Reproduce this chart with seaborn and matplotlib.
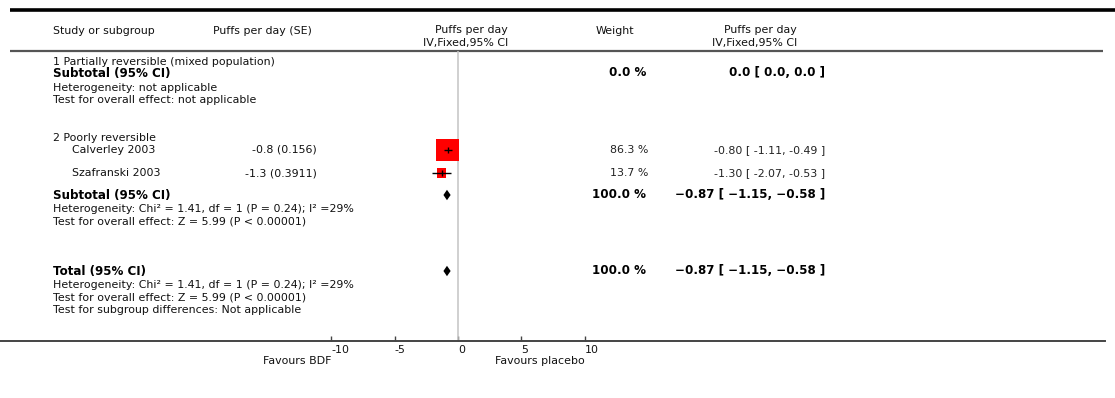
import numpy as np
import pandas as pd
import matplotlib
matplotlib.use("Agg")
import matplotlib.pyplot as plt
import seaborn as sns

# ---- data -------------------------------------------------------------
studies = ["Calverley 2003", "Szafranski 2003"]
effect_se_labels = ["-0.8 (0.156)", "-1.3 (0.3911)"]
estimates = [-0.80, -1.30]
ci_low = [-1.11, -2.07]
ci_high = [-0.49, -0.53]
weights = [86.3, 13.7]
study_weight_labels = ["86.3 %", "13.7 %"]
study_ci_labels = ["-0.80 [ -1.11, -0.49 ]", "-1.30 [ -2.07, -0.53 ]"]

subtotal_est, subtotal_lo, subtotal_hi = -0.87, -1.15, -0.58
total_est, total_lo, total_hi = -0.87, -1.15, -0.58

axis_ticks = [-10, -5, 0, 5, 10]
axis_tick_labels = ["-10", "-5", "0", "5", "10"]

# ---- layout (figure pixels, y measured from the top) ------------------
W, H = 1115, 398
ZERO_PX = 458.0
PX_PER_UNIT = 12.68
AXIS_Y = 341
ROW_Y = {"calverley": 150, "szafranski": 173, "sub2": 195, "total": 271}

sns.set_theme(style="white")
plt.rcParams["font.family"] = ["DejaVu Sans"]

fig = plt.figure(figsize=(W / 100, H / 100), dpi=100)
fig.patch.set_facecolor("white")

# text / rule layer
tx = fig.add_axes([0, 0, 1, 1])
tx.set_xlim(0, W)
tx.set_ylim(H, 0)
tx.axis("off")

# forest-plot layer in effect units
ax = fig.add_axes([0, 0, 1, 1])
ax.patch.set_alpha(0)
ax.set_xlim((0 - ZERO_PX) / PX_PER_UNIT, (W - ZERO_PX) / PX_PER_UNIT)
ax.set_ylim(H, 0)

small = 7.9
bold_big = 8.6

def t(x, y, s, size=small, weight="normal", ha="left", color="#111111"):
    tx.text(x, y, s, fontsize=size, fontweight=weight, ha=ha, va="center", color=color)

# rules
tx.hlines(10, 10, W, color="black", lw=2.6)
tx.hlines(51, 10, 1103, color="#555555", lw=1.6)

# header
t(53, 31, "Study or subgroup")
t(213, 31, "Puffs per day (SE)")
t(508, 30, "Puffs per day", ha="right")
t(508, 43, "IV,Fixed,95% CI", ha="right")
t(615, 31, "Weight", ha="center")
t(797, 30, "Puffs per day", ha="right")
t(797, 43, "IV,Fixed,95% CI", ha="right")

# subgroup 1
t(53, 62, "1 Partially reversible (mixed population)")
t(53, 73, "Subtotal (95% CI)", size=bold_big, weight="bold", color="black")
t(53, 88, "Heterogeneity: not applicable")
t(53, 100, "Test for overall effect: not applicable")
t(646, 73, "0.0 %", size=bold_big, weight="bold", ha="right", color="black")
t(825, 73, "0.0 [ 0.0, 0.0 ]", size=bold_big, weight="bold", ha="right", color="black")

# subgroup 2
t(53, 138, "2 Poorly reversible")
study_rows = [ROW_Y["calverley"], ROW_Y["szafranski"]]
for name, se_lab, w_lab, ci_lab, y in zip(studies, effect_se_labels,
                                          study_weight_labels, study_ci_labels, study_rows):
    t(72, y, name)
    t(317, y, se_lab, ha="right")
    t(648, y, w_lab, ha="right", color="#222222")
    t(825, y, ci_lab, ha="right", color="#222222")

het = "Heterogeneity: Chi\u00b2 = 1.41, df = 1 (P = 0.24); I\u00b2 =29%"
overall = "Test for overall effect: Z = 5.99 (P < 0.00001)"
sub_ci = f"{subtotal_est:.2f} [ {subtotal_lo:.2f}, {subtotal_hi:.2f} ]".replace("-", "\u2212")
tot_ci = f"{total_est:.2f} [ {total_lo:.2f}, {total_hi:.2f} ]".replace("-", "\u2212")

t(53, ROW_Y["sub2"], "Subtotal (95% CI)", size=bold_big, weight="bold", color="black")
t(53, 209, het)
t(53, 221, overall)
t(646, ROW_Y["sub2"], "100.0 %", size=bold_big, weight="bold", ha="right", color="black")
t(825, ROW_Y["sub2"], sub_ci, size=bold_big, weight="bold", ha="right", color="black")

t(53, ROW_Y["total"], "Total (95% CI)", size=bold_big, weight="bold", color="black")
t(53, 285, het)
t(53, 297, overall)
t(53, 310, "Test for subgroup differences: Not applicable")
t(646, ROW_Y["total"], "100.0 %", size=bold_big, weight="bold", ha="right", color="black")
t(825, ROW_Y["total"], tot_ci, size=bold_big, weight="bold", ha="right", color="black")

# ---- forest marks -------------------------------------------------------
ax.vlines(0, 51, AXIS_Y, color="#c4c4c4", lw=1.1, zorder=1)

df = pd.DataFrame({"est": estimates, "row": study_rows, "weight": weights})
sns.scatterplot(data=df, x="est", y="row", size="weight", sizes=(0, 274),
                size_norm=(0, max(weights)), marker="s", color="#ff0000",
                edgecolor="none", linewidth=0, legend=False, ax=ax, zorder=3)
ax.hlines(study_rows, ci_low, ci_high, color="black", lw=1.0, zorder=4)
ax.scatter(estimates, study_rows, marker="|", s=22, color="black", linewidths=1.0, zorder=5)

def diamond(est, lo, hi, y, half_h=5.2):
    ax.fill([lo, est, hi, est], [y, y - half_h, y, y + half_h],
            color="black", lw=0, zorder=4)

diamond(subtotal_est, subtotal_lo, subtotal_hi, ROW_Y["sub2"])
diamond(total_est, total_lo, total_hi, ROW_Y["total"])

# ---- bottom effect axis -------------------------------------------------
for side in ["top", "left", "right"]:
    ax.spines[side].set_visible(False)
ax.spines["bottom"].set_visible(True)
ax.spines["bottom"].set_position(("data", AXIS_Y))
ax.spines["bottom"].set_color("#444444")
ax.spines["bottom"].set_linewidth(1.4)
ax.spines["bottom"].set_bounds((0 - ZERO_PX) / PX_PER_UNIT, (1105 - ZERO_PX) / PX_PER_UNIT)
ax.set_yticks([])
ax.set_xticks(axis_ticks)
ax.set_xticklabels(axis_tick_labels, fontsize=small, ha="left", color="#111111")
ax.tick_params(axis="x", direction="in", length=3.8, width=1, color="#444444",
               pad=3, bottom=True)
ax.set_xlabel("")
ax.set_ylabel("")
ax.text(axis_ticks[0], 361, "Favours BDF", fontsize=small, ha="right", va="center", color="#111111")
ax.text(axis_ticks[-1], 361, "Favours placebo", fontsize=small, ha="right", va="center", color="#111111")

fig.savefig("out.png", dpi=100, facecolor="white")
